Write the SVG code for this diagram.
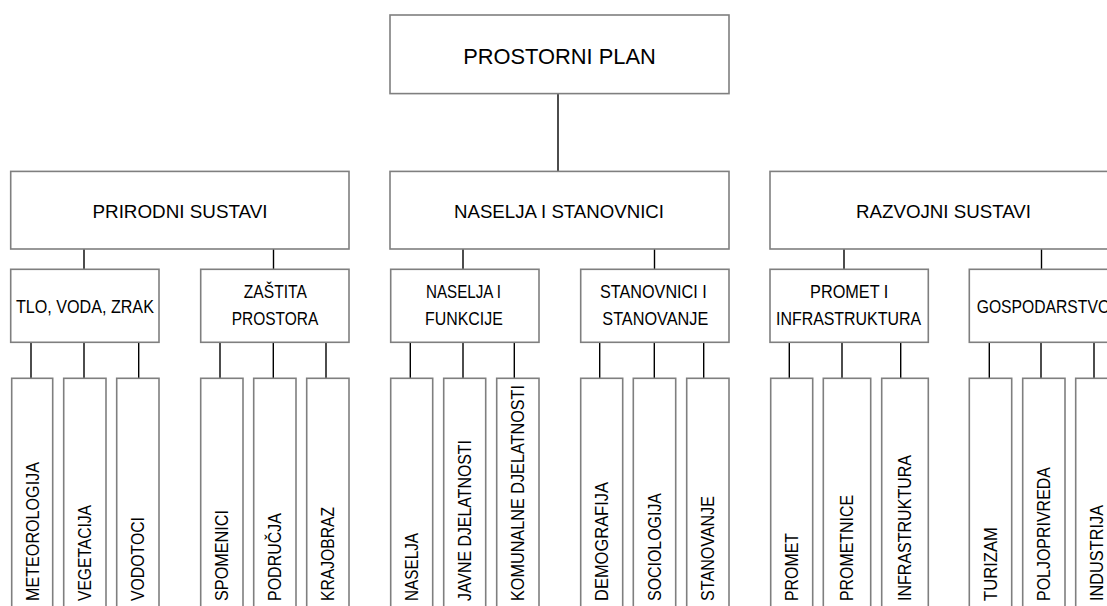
<svg xmlns="http://www.w3.org/2000/svg" width="1107" height="606" viewBox="0 0 1107 606">
<style>
.box{fill:#ffffff;stroke:#7f7f7f;stroke-width:1.6}
.t{font-family:"Liberation Sans",Arial,sans-serif;font-size:18.5px;fill:#000000;text-anchor:middle}
.top{font-size:22.5px}
.v{font-family:"Liberation Sans",Arial,sans-serif;font-size:17.5px;fill:#000000;text-anchor:start}
.c{stroke:#000000;stroke-width:1.4;fill:none}
</style>
<rect x="0" y="0" width="1107" height="606" fill="#ffffff"/>
<g id="connectors">
<line class="c" x1="558" y1="93.6" x2="558" y2="172"/>
<line class="c" x1="84" y1="249" x2="84" y2="269.5"/>
<line class="c" x1="273.5" y1="249" x2="273.5" y2="269.5"/>
<line class="c" x1="463" y1="249" x2="463" y2="269.5"/>
<line class="c" x1="654.5" y1="249" x2="654.5" y2="269.5"/>
<line class="c" x1="844" y1="249" x2="844" y2="269.5"/>
<line class="c" x1="1041.5" y1="249" x2="1041.5" y2="269.5"/>
<line class="c" x1="31" y1="342.3" x2="31" y2="378.5"/>
<line class="c" x1="84" y1="342.3" x2="84" y2="378.5"/>
<line class="c" x1="138.7" y1="342.3" x2="138.7" y2="378.5"/>
<line class="c" x1="220" y1="342.3" x2="220" y2="380.5"/>
<line class="c" x1="273.3" y1="342.3" x2="273.3" y2="378.5"/>
<line class="c" x1="326" y1="342.3" x2="326" y2="378.5"/>
<line class="c" x1="410.3" y1="342.3" x2="410.3" y2="378.5"/>
<line class="c" x1="463" y1="342.3" x2="463" y2="378.5"/>
<line class="c" x1="514.3" y1="342.3" x2="514.3" y2="378.5"/>
<line class="c" x1="599.7" y1="342.3" x2="599.7" y2="378.5"/>
<line class="c" x1="654.3" y1="342.3" x2="654.3" y2="378.5"/>
<line class="c" x1="703.7" y1="342.3" x2="703.7" y2="378.5"/>
<line class="c" x1="789.3" y1="342.3" x2="789.3" y2="378.5"/>
<line class="c" x1="842" y1="342.3" x2="842" y2="378.5"/>
<line class="c" x1="900.7" y1="342.3" x2="900.7" y2="378.5"/>
<line class="c" x1="989.3" y1="342.3" x2="989.3" y2="378.5"/>
<line class="c" x1="1041" y1="342.3" x2="1041" y2="378.5"/>
<line class="c" x1="1094" y1="342.3" x2="1094" y2="378.5"/>
</g>
<g id="prostorni-plan">
<rect class="box" x="390" y="15" width="339" height="78.6"/>
<text class="t top" x="559.5" y="63.6" textLength="192.5" lengthAdjust="spacingAndGlyphs">PROSTORNI PLAN</text>
</g>
<g id="prirodni-sustavi">
<rect class="box" x="10.7" y="171.4" width="338.3" height="77.6"/>
<text class="t" x="180" y="218" textLength="175" lengthAdjust="spacingAndGlyphs">PRIRODNI SUSTAVI</text>
</g>
<g id="naselja-i-stanovnici">
<rect class="box" x="390" y="171.4" width="339" height="77.6"/>
<text class="t" x="559" y="218" textLength="210" lengthAdjust="spacingAndGlyphs">NASELJA I STANOVNICI</text>
</g>
<g id="razvojni-sustavi">
<rect class="box" x="770" y="171.4" width="347" height="77.6"/>
<text class="t" x="943.5" y="218" textLength="175" lengthAdjust="spacingAndGlyphs">RAZVOJNI SUSTAVI</text>
</g>
<g id="tlo-voda-zrak">
<rect class="box" x="10.7" y="269.3" width="148.3" height="73"/>
<text class="t" x="84.9" y="312.7" textLength="138" lengthAdjust="spacingAndGlyphs">TLO, VODA, ZRAK</text>
</g>
<g id="zastita-prostora">
<rect class="box" x="200.7" y="269.3" width="148.3" height="73"/>
<text class="t" x="275.3" y="297.7" textLength="63" lengthAdjust="spacingAndGlyphs">ZAŠTITA</text>
<text class="t" x="275" y="325" textLength="86.6" lengthAdjust="spacingAndGlyphs">PROSTORA</text>
</g>
<g id="naselja-i-funkcije">
<rect class="box" x="390.7" y="269.3" width="148.3" height="73"/>
<text class="t" x="463.5" y="297.7" textLength="75" lengthAdjust="spacingAndGlyphs">NASELJA I</text>
<text class="t" x="463.9" y="325" textLength="77.7" lengthAdjust="spacingAndGlyphs">FUNKCIJE</text>
</g>
<g id="stanovnici-i-stanovanje">
<rect class="box" x="580.7" y="269.3" width="148.3" height="73"/>
<text class="t" x="653.4" y="297.7" textLength="106.7" lengthAdjust="spacingAndGlyphs">STANOVNICI I</text>
<text class="t" x="655.3" y="325" textLength="106" lengthAdjust="spacingAndGlyphs">STANOVANJE</text>
</g>
<g id="promet-i-infrastruktura">
<rect class="box" x="770" y="269.3" width="158.3" height="73"/>
<text class="t" x="849.2" y="297.7" textLength="78.3" lengthAdjust="spacingAndGlyphs">PROMET I</text>
<text class="t" x="848.5" y="325" textLength="145" lengthAdjust="spacingAndGlyphs">INFRASTRUKTURA</text>
</g>
<g id="gospodarstvo">
<rect class="box" x="969.3" y="269.3" width="158.3" height="73"/>
<text class="t" x="1043.4" y="312.7" textLength="133.4" lengthAdjust="spacingAndGlyphs">GOSPODARSTVO</text>
</g>
<g id="meteorologija"><rect class="box" x="11.7" y="378.3" width="41" height="240"/><text class="v" transform="translate(38.5,601) rotate(-90)" textLength="139" lengthAdjust="spacingAndGlyphs">METEOROLOGIJA</text></g>
<g id="vegetacija"><rect class="box" x="63.7" y="378.3" width="42.3" height="240"/><text class="v" transform="translate(91.2,601) rotate(-90)" textLength="96" lengthAdjust="spacingAndGlyphs">VEGETACIJA</text></g>
<g id="vodotoci"><rect class="box" x="116.7" y="378.3" width="42.3" height="240"/><text class="v" transform="translate(144.2,601) rotate(-90)" textLength="84" lengthAdjust="spacingAndGlyphs">VODOTOCI</text></g>
<g id="spomenici"><rect class="box" x="200.7" y="378.3" width="42.3" height="240"/><text class="v" transform="translate(228.2,601) rotate(-90)" textLength="91" lengthAdjust="spacingAndGlyphs">SPOMENICI</text></g>
<g id="podrucja"><rect class="box" x="253.7" y="378.3" width="42.3" height="240"/><text class="v" transform="translate(281.2,601) rotate(-90)" textLength="88" lengthAdjust="spacingAndGlyphs">PODRUČJA</text></g>
<g id="krajobraz"><rect class="box" x="306.7" y="378.3" width="42.3" height="240"/><text class="v" transform="translate(334.2,601) rotate(-90)" textLength="94" lengthAdjust="spacingAndGlyphs">KRAJOBRAZ</text></g>
<g id="naselja"><rect class="box" x="390.7" y="378.3" width="42" height="240"/><text class="v" transform="translate(418,601) rotate(-90)" textLength="68" lengthAdjust="spacingAndGlyphs">NASELJA</text></g>
<g id="javne-djelatnosti"><rect class="box" x="443.7" y="378.3" width="42" height="240"/><text class="v" transform="translate(471,601) rotate(-90)" textLength="161" lengthAdjust="spacingAndGlyphs">JAVNE DJELATNOSTI</text></g>
<g id="komunalne-djelatnosti"><rect class="box" x="496.7" y="378.3" width="42.3" height="240"/><text class="v" transform="translate(524.2,601) rotate(-90)" textLength="216" lengthAdjust="spacingAndGlyphs">KOMUNALNE DJELATNOSTI</text></g>
<g id="demografija"><rect class="box" x="580.7" y="378.3" width="42" height="240"/><text class="v" transform="translate(608,601) rotate(-90)" textLength="119" lengthAdjust="spacingAndGlyphs">DEMOGRAFIJA</text></g>
<g id="sociologija"><rect class="box" x="633.3" y="378.3" width="42.4" height="240"/><text class="v" transform="translate(660.8,601) rotate(-90)" textLength="108" lengthAdjust="spacingAndGlyphs">SOCIOLOGIJA</text></g>
<g id="stanovanje"><rect class="box" x="686.7" y="378.3" width="42.3" height="240"/><text class="v" transform="translate(714.2,601) rotate(-90)" textLength="105" lengthAdjust="spacingAndGlyphs">STANOVANJE</text></g>
<g id="promet"><rect class="box" x="770.7" y="378.3" width="42" height="240"/><text class="v" transform="translate(798,601) rotate(-90)" textLength="68" lengthAdjust="spacingAndGlyphs">PROMET</text></g>
<g id="prometnice"><rect class="box" x="823.3" y="378.3" width="47.4" height="240"/><text class="v" transform="translate(853.3,601) rotate(-90)" textLength="106" lengthAdjust="spacingAndGlyphs">PROMETNICE</text></g>
<g id="infrastruktura"><rect class="box" x="881.7" y="378.3" width="46.6" height="240"/><text class="v" transform="translate(911.3,601) rotate(-90)" textLength="146" lengthAdjust="spacingAndGlyphs">INFRASTRUKTURA</text></g>
<g id="turizam"><rect class="box" x="969.3" y="378.3" width="42.4" height="240"/><text class="v" transform="translate(996.8,601) rotate(-90)" textLength="74" lengthAdjust="spacingAndGlyphs">TURIZAM</text></g>
<g id="poljoprivreda"><rect class="box" x="1022.7" y="378.3" width="42.3" height="240"/><text class="v" transform="translate(1050.2,601) rotate(-90)" textLength="134" lengthAdjust="spacingAndGlyphs">POLJOPRIVREDA</text></g>
<g id="industrija"><rect class="box" x="1075.7" y="378.3" width="42.3" height="240"/><text class="v" transform="translate(1103.2,601) rotate(-90)" textLength="96" lengthAdjust="spacingAndGlyphs">INDUSTRIJA</text></g>
</svg>
